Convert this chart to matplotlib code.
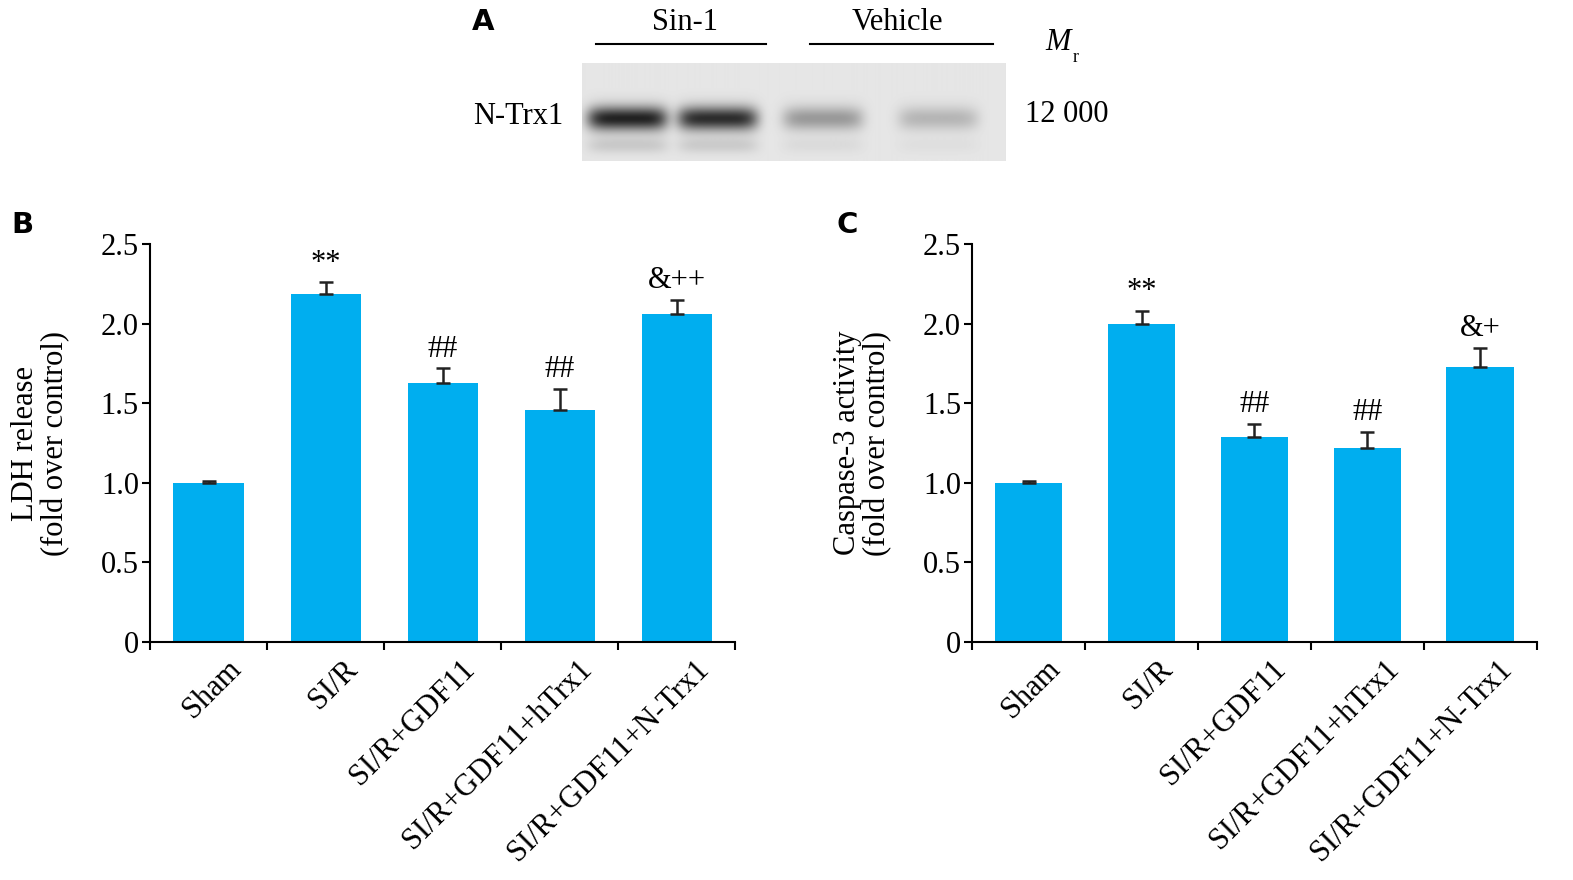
import numpy as np
import matplotlib
matplotlib.use("Agg")
import matplotlib.pyplot as plt

groups = ["Sham", "SI/R", "SI/R+GDF11", "SI/R+GDF11+hTrx1", "SI/R+GDF11+N-Trx1"]
ldh = [1.0, 2.19, 1.63, 1.46, 2.06]
ldh_err = [0.01, 0.07, 0.09, 0.13, 0.09]
ldh_marks = ["", "**", "##", "##", "&++"]
casp = [1.0, 2.0, 1.29, 1.22, 1.73]
casp_err = [0.01, 0.08, 0.08, 0.10, 0.12]
casp_marks = ["", "**", "##", "##", "&+"]
# band intensities for blot lanes: Sin-1, Sin-1, Vehicle, Vehicle
band_strength = [0.9, 0.85, 0.35, 0.22]

plt.rcParams['font.family'] = ['Liberation Serif', 'DejaVu Serif']
fig = plt.figure(figsize=(15.73, 8.8), dpi=100)
blue = '#00AEEF'
fs = 22

def panel(rect, vals, errs, marks, ylabel, letter, lx):
    ax = fig.add_axes(rect)
    x = np.arange(len(vals))
    ax.bar(x, vals, width=0.6, color=blue)
    ax.errorbar(x, vals, yerr=[np.zeros(len(errs)), errs], fmt='none',
                ecolor='#222222', capsize=5, elinewidth=1.8, capthick=1.8)
    for xi, v, e, m in zip(x, vals, errs, marks):
        ax.text(xi, v + e + 0.03, m, ha='center', va='bottom', fontsize=fs)
    ax.set_xlim(-0.5, 4.5)
    ax.set_ylim(0, 2.5)
    ax.set_yticks([0, 0.5, 1.0, 1.5, 2.0, 2.5])
    ax.set_yticklabels(["0", "0.5", "1.0", "1.5", "2.0", "2.5"], fontsize=fs)
    ax.set_xticks(np.arange(-0.5, 5, 1))
    ax.set_xticklabels([])
    ax.tick_params(axis='both', direction='out', length=6, width=1.5, pad=2)
    for xi, g in zip(x, groups):
        ax.text(xi + 0.15, -0.08, g, rotation=45, ha='right', va='top',
                fontsize=fs, rotation_mode='anchor')
    for s in ['top', 'right']:
        ax.spines[s].set_visible(False)
    for s in ['left', 'bottom']:
        ax.spines[s].set_linewidth(1.5)
    ax.set_ylabel(ylabel, fontsize=fs, linespacing=1.05, labelpad=22)
    fig.text(lx, 0.735, letter, fontsize=21, fontweight='bold', family='DejaVu Sans')
    return ax

panel([0.0954, 0.2705, 0.372, 0.452], ldh, ldh_err, ldh_marks,
      "LDH release\n(fold over control)", "B", 0.007)
panel([0.618, 0.2705, 0.359, 0.452], casp, casp_err, casp_marks,
      "Caspase-3 activity\n(fold over control)", "C", 0.532)

# panel A: blot
axb = fig.add_axes([582/1573, 1-161/880, 423/1573, 98/880])
W, H = 423, 98
xx, yy = np.meshgrid(np.arange(W), np.arange(H))
img = np.full((H, W), 0.9)
centers = [45, 135, 240, 355]
for c, s in zip(centers, band_strength):
    img -= s * 0.85 * np.exp(-((xx - c) / 40) ** 6 - ((yy - 55) / 12) ** 2)
    img -= s * 0.12 * np.exp(-((xx - c) / 40) ** 6 - ((yy - 82) / 8) ** 2)
axb.imshow(np.clip(img, 0, 1), cmap='gray', vmin=0, vmax=1, aspect='auto')
axb.axis('off')
fig.text(483/1573, 1-22/880, "A", fontsize=21, fontweight='bold',
         family='DejaVu Sans', va='center', ha='center')
fig.text(685/1573, 1-22/880, "Sin-1", fontsize=fs, ha='center', va='center')
fig.text(897/1573, 1-22/880, "Vehicle", fontsize=fs, ha='center', va='center')
fig.add_artist(plt.Line2D([596/1573, 766/1573], [1-44/880]*2, color='k', lw=1.5))
fig.add_artist(plt.Line2D([810/1573, 993/1573], [1-44/880]*2, color='k', lw=1.5))
fig.text(518/1573, 1-117/880, "N-Trx1", fontsize=fs, ha='center', va='center')
fig.text(1067/1573, 1-115/880, "12 000", fontsize=fs, ha='center', va='center')
fig.text(1045/1573, 1-43/880, "M", fontsize=fs, fontstyle='italic', ha='left', va='center')
fig.text(1073/1573, 1-57/880, "r", fontsize=13, ha='left', va='center')

fig.savefig("out.png", dpi=100)
